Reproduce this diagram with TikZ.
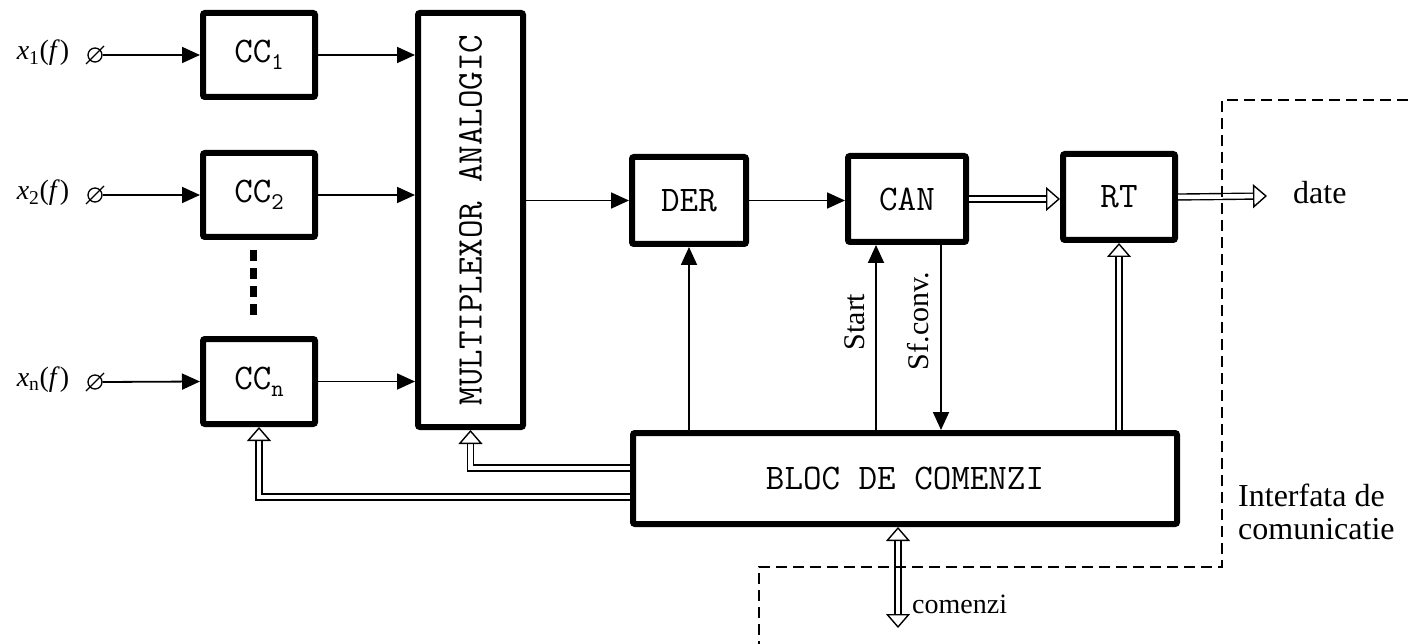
\documentclass[tikz,border=0pt]{standalone}
\usepackage{fontspec}
\setmainfont{Liberation Serif}
\usetikzlibrary{arrows.meta}
\begin{document}
\begin{tikzpicture}[x=1pt,y=-1pt,
  blk/.style={draw, line width=6pt, rounded corners=2pt, inner sep=0pt,
    font=\ttfamily\fontsize{36}{38}\selectfont},
  sig/.style={line width=1.8pt, -{Triangle[length=18pt,width=16pt]}},
  bus/.style={double, double distance=4.5pt, line width=1.4pt,
    -{Triangle[open,length=14pt,width=24pt]}},
  bbus/.style={double, double distance=4.5pt, line width=1.4pt,
    {Triangle[open,length=14pt,width=24pt]}-{Triangle[open,length=14pt,width=24pt]}},
  inp/.style={circle, draw, line width=1.3pt, inner sep=0pt, minimum size=14pt},
  inlab/.style={font=\fontsize{28}{30}\selectfont},
  iface/.style={line width=1.8pt, dash pattern=on 11pt off 6pt},
  vlab/.style={rotate=90, font=\fontsize{30}{32}\selectfont},
  txt/.style={font=\fontsize{32}{35}\selectfont, align=left, inner sep=0pt}
]
\useasboundingbox (0,0) rectangle (1410,644);

% blocks
\node[blk, minimum width=112pt, minimum height=84pt] (cc1) at (259,55) {CC\raisebox{-7pt}{\fontsize{24}{24}\selectfont 1}};
\node[blk, minimum width=112pt, minimum height=84pt] (cc2) at (259,195) {CC\raisebox{-7pt}{\fontsize{24}{24}\selectfont 2}};
\node[blk, minimum width=112pt, minimum height=85pt] (ccn) at (259,381.5) {CC\raisebox{-7pt}{\fontsize{24}{24}\selectfont n}};
\node[blk, minimum width=105pt, minimum height=414pt] (mux) at (470.5,220) {};
\node[rotate=90, font=\ttfamily\fontsize{36}{38}\selectfont] (muxt) at (mux.center) {MULTIPLEXOR ANALOGIC};
\node[blk, minimum width=114pt, minimum height=87pt] (der) at (689,200.5) {DER};
\node[blk, minimum width=118pt, minimum height=86pt] (can) at (907,199) {CAN};
\node[blk, minimum width=112pt, minimum height=86pt] (rt) at (1119,197) {RT};
\node[blk, minimum width=544pt, minimum height=91pt] (bloc) at (905,478.5) {BLOC DE COMENZI};

% inputs
\node[inp] (i1) at (95,55) {};
\node[inp] (i2) at (95,195) {};
\node[inp] (in) at (95,382) {};
\foreach \n in {i1,i2,in}
  \draw[line width=1.3pt] ([shift={(-9,9)}]\n.center) -- ([shift={(9,-9)}]\n.center);
\node[inlab] (l1) at (43,53) {\textit{x}\textsubscript{1}(\textit{f})};
\node[inlab] (l2) at (43,193) {\textit{x}\textsubscript{2}(\textit{f})};
\node[inlab] (ln) at (43,380) {\textit{x}\textsubscript{n}(\textit{f})};
\draw[sig] (i1.east) -- (cc1.west);
\draw[sig] (i2.east) -- (cc2.west);
\draw[sig] (in.east) -- (ccn.west);

% dots
\coordinate (d1) at (253,250);
\coordinate (d2) at (253,322);
\draw[line width=7pt, dash pattern=on 11pt off 7pt] (d1) -- (d2);

% CC -> MUX
\draw[sig] (cc1.east) -- (cc1.east -| mux.west);
\draw[sig] (cc2.east) -- (cc2.east -| mux.west);
\draw[sig] (ccn.east) -- (ccn.east -| mux.west);

% chain
\draw[sig] (der.west -| mux.east) -- (der.west);
\draw[sig] (der.east) -- (der.east -| can.west);
\draw[bus] (can.east) -- (can.east -| rt.west);
\coordinate (dend) at (1267,196);
\draw[bus] (rt.east) -- (dend);
\node[txt, anchor=west] (date) at (1293,193) {date};

% control lines
\draw[sig] (der.south |- bloc.north) -- (der.south);
\coordinate (sx) at (876,0);
\coordinate (fx) at (941,0);
\draw[sig] (sx |- bloc.north) -- (sx |- can.south);
\draw[sig] (fx |- can.south) -- (fx |- bloc.north);
\node[vlab] (start) at (855,322) {Start};
\node[vlab] (sfc) at (918,321) {Sf.conv.};
\draw[bus] (rt.south |- bloc.north) -- (rt.south);

% buses back to mux and CCn
\coordinate (mb) at (470.5,468);
\coordinate (cb) at (259,497);
\draw[bus] (mb -| bloc.west) -- (mb) -- (mux.south);
\draw[bus] (cb -| bloc.west) -- (cb) -- (ccn.south);

% comenzi
\coordinate (cm) at (898,628);
\draw[bbus] (cm |- bloc.south) -- (cm);
\node[txt, anchor=west, font=\fontsize{28}{30}\selectfont] (com) at (912,604) {comenzi};

% interface
\coordinate (f1) at (1408,100);
\coordinate (f2) at (1222,100);
\coordinate (f3) at (1222,567);
\coordinate (f4) at (759,567);
\coordinate (f5) at (759,644);
\draw[iface] (f1) -- (f2) -- (f3) -- (f4) -- (f5);
\node[txt, anchor=north west] (itf) at (1238,484) {Interfata de\\[-2pt]comunicatie};
\end{tikzpicture}
\end{document}
